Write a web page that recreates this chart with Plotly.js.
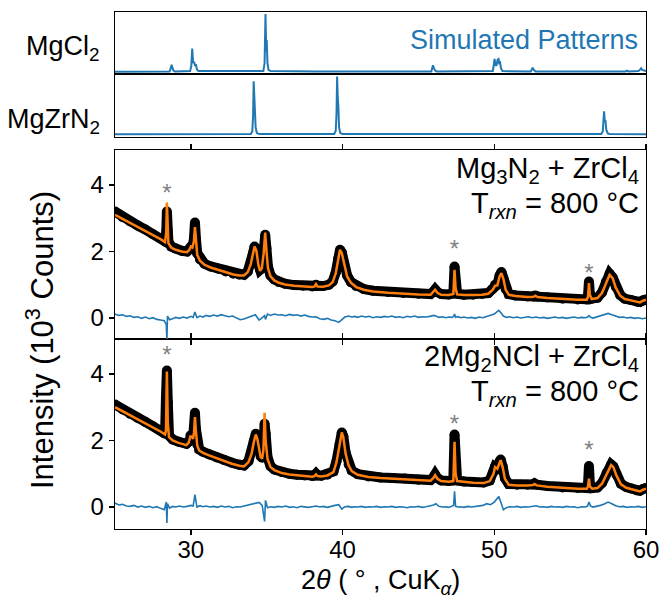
<!DOCTYPE html>
<html><head><meta charset="utf-8">
<script src="https://cdn.plot.ly/plotly-3.0.1.min.js"></script>
<style>html,body{margin:0;padding:0;background:#fff}#chart{width:660px;height:602px}</style>
</head><body><div id="chart"></div>
<script>
// ---- Simulated patterns (normalised) ----
const simX_MgCl2 = [25, 28.6, 28.68, 28.73, 28.78, 28.85, 28.95, 29.95, 30.03, 30.09, 30.15, 30.22, 30.28, 30.33, 30.4, 30.5, 34.78, 34.86, 34.92, 34.97, 35.0, 35.05, 35.12, 35.25, 38.1, 38.2, 38.3, 45.85, 45.92, 45.96, 46.02, 46.1, 46.2, 49.9, 49.97, 50.02, 50.07, 50.14, 50.22, 50.28, 50.32, 50.38, 50.44, 50.54, 52.4, 52.48, 52.53, 52.6, 52.72, 58.65, 58.75, 58.85, 59.5, 59.62, 59.68, 59.75, 59.9, 60];
const simY_MgCl2 = [0, 0.005, 0.06, 0.12, 0.07, 0.02, 0.005, 0.01, 0.1, 0.40, 0.15, 0.17, 0.10, 0.13, 0.04, 0.01, 0.01, 0.15, 1.0, 0.35, 0.55, 0.15, 0.03, 0.01, 0.005, 0.015, 0.005, 0.005, 0.06, 0.11, 0.06, 0.02, 0.005, 0.01, 0.12, 0.22, 0.12, 0.1, 0.21, 0.22, 0.15, 0.16, 0.06, 0.01, 0.005, 0.04, 0.07, 0.03, 0.005, 0.005, 0.02, 0.005, 0.01, 0.04, 0.06, 0.03, 0.01, 0.01];
const simX_MgZrN2 = [25, 33.95, 34.05, 34.1, 34.14, 34.18, 34.22, 34.27, 34.35, 34.5, 39.45, 39.55, 39.6, 39.64, 39.68, 39.72, 39.77, 39.85, 40.0, 57.05, 57.15, 57.2, 57.24, 57.28, 57.33, 57.38, 57.48, 57.6, 60];
const simY_MgZrN2 = [0, 0.005, 0.05, 0.3, 0.92, 0.6, 0.45, 0.12, 0.02, 0.005, 0.005, 0.06, 0.35, 1.0, 0.65, 0.5, 0.12, 0.02, 0.005, 0.005, 0.05, 0.2, 0.40, 0.22, 0.24, 0.08, 0.015, 0.005, 0];

// ---- Panel: Mg3N2 + ZrCl4 (10^3 counts) ----
const x_A = [25, 25.5, 26, 26.5, 27, 27.5, 28, 28.3, 28.38, 28.42, 28.46, 28.52, 28.7, 29, 29.4, 29.75, 29.9, 30.0, 30.1, 30.2, 30.27, 30.34, 30.42, 30.6, 30.9, 31.3, 31.8, 32.3, 32.8, 33.2, 33.5, 33.75, 33.95, 34.08, 34.2, 34.32, 34.45, 34.56, 34.68, 34.8, 34.9, 34.98, 35.08, 35.25, 35.5, 35.8, 36.2, 36.8, 37.4, 38.0, 38.15, 38.25, 38.35, 38.7, 39.1, 39.35, 39.55, 39.7, 39.83, 39.95, 40.1, 40.3, 40.55, 40.9, 41.4, 42, 43, 44, 45, 45.8, 46.0, 46.1, 46.25, 46.5, 47, 47.3, 47.38, 47.45, 47.55, 48, 48.6, 49.2, 49.6, 49.9, 50.05, 50.2, 50.35, 50.47, 50.6, 50.75, 50.95, 51.4, 52.2, 52.6, 52.7, 52.85, 53.5, 54.5, 55.5, 56.1, 56.18, 56.24, 56.3, 56.42, 56.8, 57.1, 57.35, 57.6, 57.8, 58.0, 58.3, 58.6, 59.0, 59.4, 59.6, 59.8, 60];
const fit_A = [3.1, 2.98, 2.86, 2.74, 2.62, 2.5, 2.37, 2.28, 2.6, 3.47, 2.75, 2.25, 2.12, 2.05, 2.0, 1.98, 2.05, 2.15, 2.12, 2.3, 2.73, 2.3, 1.9, 1.72, 1.6, 1.52, 1.45, 1.38, 1.31, 1.28, 1.28, 1.38, 1.62, 1.9, 2.15, 2.02, 1.6, 1.42, 1.5, 1.95, 2.57, 2.05, 1.5, 1.25, 1.13, 1.06, 1.01, 0.97, 0.95, 0.93, 0.95, 1.02, 0.95, 0.94, 0.98, 1.08, 1.35, 1.75, 2.05, 1.95, 1.6, 1.25, 1.06, 0.93, 0.85, 0.8, 0.76, 0.73, 0.71, 0.7, 0.78, 0.85, 0.76, 0.7, 0.69, 0.72, 1.45, 0.9, 0.71, 0.69, 0.69, 0.7, 0.73, 0.85, 0.97, 0.98, 1.25, 1.35, 1.18, 0.85, 0.7, 0.66, 0.63, 0.64, 0.67, 0.63, 0.6, 0.57, 0.55, 0.55, 0.65, 1.05, 0.7, 0.57, 0.6, 0.75, 1.05, 1.3, 1.2, 0.92, 0.67, 0.57, 0.53, 0.48, 0.47, 0.52, 0.55];
const obs_A = [3.2, 3.03, 2.9, 2.78, 2.66, 2.52, 2.4, 2.3, 2.6, 3.2, 2.65, 2.3, 2.15, 2.08, 2.02, 2.0, 2.08, 2.15, 2.15, 2.35, 2.87, 2.35, 1.95, 1.76, 1.63, 1.55, 1.48, 1.4, 1.33, 1.3, 1.3, 1.4, 1.62, 1.92, 2.15, 2.05, 1.62, 1.45, 1.5, 2.0, 2.5, 2.1, 1.55, 1.28, 1.16, 1.08, 1.03, 0.99, 0.97, 0.95, 0.96, 1.0, 0.96, 0.96, 1.0, 1.1, 1.37, 1.77, 2.05, 1.97, 1.62, 1.28, 1.08, 0.96, 0.87, 0.82, 0.78, 0.75, 0.73, 0.72, 0.8, 0.86, 0.78, 0.72, 0.71, 0.74, 1.55, 0.95, 0.73, 0.7, 0.7, 0.72, 0.75, 0.88, 1.0, 1.0, 1.28, 1.38, 1.2, 0.87, 0.72, 0.68, 0.65, 0.65, 0.68, 0.65, 0.62, 0.58, 0.56, 0.56, 0.68, 1.1, 0.72, 0.58, 0.61, 0.77, 1.08, 1.33, 1.22, 0.94, 0.69, 0.58, 0.54, 0.49, 0.48, 0.53, 0.56];

// ---- Panel: 2Mg2NCl + ZrCl4 ----
const x_B = [25, 25.5, 26, 26.5, 27, 27.5, 28, 28.3, 28.36, 28.42, 28.48, 28.56, 28.8, 29.2, 29.7, 29.85, 29.97, 30.07, 30.15, 30.21, 30.27, 30.33, 30.42, 30.55, 30.8, 31.2, 31.7, 32.2, 32.7, 33.2, 33.5, 33.8, 34.0, 34.15, 34.28, 34.38, 34.5, 34.6, 34.7, 34.78, 34.86, 34.93, 35.05, 35.25, 35.5, 36.0, 36.5, 37.0, 37.5, 38.0, 38.15, 38.25, 38.35, 38.6, 39.0, 39.4, 39.6, 39.8, 39.95, 40.05, 40.2, 40.4, 40.6, 41.0, 41.7, 42.5, 43.3, 44.1, 45.0, 45.8, 46.0, 46.1, 46.25, 46.5, 47.0, 47.3, 47.38, 47.45, 47.55, 48.0, 48.6, 49.3, 49.7, 49.95, 50.05, 50.2, 50.35, 50.42, 50.55, 50.7, 50.95, 51.5, 52.2, 52.55, 52.65, 52.8, 53.5, 54.5, 55.5, 56.1, 56.18, 56.24, 56.3, 56.45, 56.8, 57.1, 57.4, 57.7, 57.85, 58.05, 58.35, 58.7, 59.0, 59.4, 59.6, 59.8, 60];
const fit_B = [3.0, 2.88, 2.76, 2.64, 2.52, 2.4, 2.27, 2.18, 2.3, 4.07, 2.55, 2.1, 2.0, 1.93, 1.86, 1.93, 2.12, 2.12, 2.05, 2.25, 2.7, 2.3, 1.85, 1.7, 1.63, 1.55, 1.46, 1.38, 1.3, 1.24, 1.22, 1.35, 1.6, 1.95, 2.18, 2.05, 1.7, 1.5, 1.46, 1.7, 2.83, 2.0, 1.45, 1.2, 1.11, 1.02, 0.98, 0.95, 0.93, 0.91, 0.93, 0.98, 0.93, 0.92, 0.95, 1.05, 1.35, 1.85, 2.24, 2.1, 1.6, 1.25, 1.08, 0.97, 0.9, 0.87, 0.85, 0.84, 0.8, 0.79, 0.88, 0.96, 0.85, 0.78, 0.76, 0.78, 1.96, 1.0, 0.78, 0.75, 0.73, 0.72, 0.78, 1.0, 1.2, 1.15, 1.35, 1.41, 1.2, 0.85, 0.67, 0.65, 0.65, 0.66, 0.69, 0.65, 0.61, 0.57, 0.55, 0.55, 0.62, 0.85, 0.62, 0.55, 0.57, 0.7, 1.0, 1.26, 1.2, 0.95, 0.68, 0.58, 0.54, 0.48, 0.47, 0.52, 0.55];
const obs_B = [3.08, 2.93, 2.8, 2.68, 2.56, 2.43, 2.3, 2.2, 3.3, 4.1, 3.15, 2.15, 2.03, 1.96, 1.9, 1.96, 2.15, 2.15, 2.08, 2.3, 2.83, 2.35, 1.88, 1.73, 1.66, 1.58, 1.49, 1.41, 1.33, 1.27, 1.25, 1.38, 1.63, 1.98, 2.2, 2.08, 1.72, 1.52, 1.48, 1.75, 2.5, 2.2, 1.5, 1.23, 1.13, 1.05, 1.0, 0.97, 0.95, 0.93, 0.95, 1.0, 0.95, 0.94, 0.97, 1.07, 1.38, 1.88, 2.24, 2.12, 1.63, 1.28, 1.1, 0.99, 0.92, 0.89, 0.87, 0.86, 0.82, 0.81, 0.9, 0.98, 0.87, 0.8, 0.78, 0.8, 2.18, 1.3, 0.8, 0.77, 0.75, 0.74, 0.8, 1.05, 1.22, 1.18, 1.37, 1.43, 1.22, 0.87, 0.69, 0.67, 0.67, 0.68, 0.71, 0.67, 0.63, 0.59, 0.57, 0.57, 0.7, 1.23, 0.68, 0.57, 0.59, 0.72, 1.02, 1.28, 1.22, 0.97, 0.7, 0.6, 0.56, 0.5, 0.49, 0.54, 0.57];

// ---- Difference curves (shared 2theta grid) ----
const x_diff = [25, 25.25, 25.5, 25.75, 26, 26.25, 26.5, 26.75, 27, 27.25, 27.5, 27.75, 28, 28.25, 28.38, 28.42, 28.46, 28.6, 28.8, 29, 29.25, 29.5, 29.75, 30, 30.15, 30.27, 30.4, 30.6, 30.8, 31, 31.25, 31.5, 31.75, 32, 32.25, 32.5, 32.75, 33, 33.25, 33.5, 33.75, 34, 34.25, 34.5, 34.7, 34.86, 34.92, 35.05, 35.25, 35.5, 35.75, 36, 36.25, 36.5, 36.75, 37, 37.25, 37.5, 37.75, 38, 38.25, 38.5, 38.75, 39, 39.25, 39.5, 39.75, 39.95, 40.15, 40.4, 40.6, 40.8, 41, 41.25, 41.5, 41.75, 42, 42.25, 42.5, 42.75, 43, 43.25, 43.5, 43.75, 44, 44.25, 44.5, 44.75, 45, 45.25, 45.5, 45.75, 46, 46.15, 46.35, 46.6, 46.8, 47, 47.2, 47.32, 47.38, 47.45, 47.6, 47.8, 48, 48.25, 48.5, 48.75, 49, 49.25, 49.5, 49.75, 50, 50.15, 50.3, 50.45, 50.6, 50.8, 51, 51.25, 51.5, 51.75, 52, 52.25, 52.5, 52.75, 53, 53.25, 53.5, 53.75, 54, 54.25, 54.5, 54.75, 55, 55.25, 55.5, 55.75, 56, 56.15, 56.24, 56.35, 56.5, 56.75, 57, 57.25, 57.5, 57.75, 58, 58.25, 58.5, 58.75, 59, 59.25, 59.5, 59.75, 60];
const diff_A = [0.12, 0.08, 0.1, 0.05, 0.07, 0.02, 0.04, -0.01, 0.03, -0.02,
  0.01, -0.04, -0.06, -0.08, -0.2, -0.66, 0.06, -0.05, -0.02, 0.02,
  -0.01, 0.03, 0.0, 0.05, 0.02, 0.18, 0.01, 0.06, 0.03, 0.08,
  0.05, 0.09, 0.06, 0.1, 0.07, 0.04, 0.06, 0.01, -0.05, -0.03,
  0.02, 0.06, 0.1, -0.06, 0.02, 0.07, -0.04, 0.12, 0.08, 0.12,
  0.09, 0.1, 0.07, 0.11, 0.08, 0.1, 0.06, 0.09, 0.05, 0.03,
  0.04, -0.02, -0.04, -0.01, -0.06, -0.08, -0.13, -0.05, 0.03, 0.06,
  0.03, 0.05, 0.02, 0.06, 0.03, 0.05, 0.01, 0.04, 0.02, 0.05,
  0.03, 0.06, 0.02, 0.04, 0.01, 0.05, 0.03, 0.06, 0.02, 0.04,
  0.03, 0.05, 0.08, 0.06, 0.02, 0.04, 0.01, 0.03, 0.02, 0.05,
  0.12, 0.02, 0.04, 0.01, 0.03, 0.0, 0.02, -0.01, 0.03, 0.01,
  0.04, 0.07, 0.12, 0.18, 0.23, 0.15, 0.06, 0.02, 0.04, 0.01,
  0.03, 0.0, 0.02, 0.04, 0.01, 0.03, 0.0, 0.02, -0.01, 0.01,
  0.03, 0.0, 0.02, -0.01, 0.01, 0.03, 0.0, 0.02, 0.01, 0.03,
  0.07, 0.02, 0.0, 0.03, 0.06, 0.09, 0.14, 0.1, 0.05, 0.02,
  0.03, 0.0, 0.02, -0.01, 0.01, -0.02, 0.0];
const diff_B = [0.12, 0.06, 0.08, 0.03, 0.02, 0.05, 0.0, 0.03, -0.01, 0.02,
  -0.02, 0.01, -0.04, -0.08, 0.15, -0.48, 0.1, -0.03, 0.02, 0.0,
  0.03, 0.0, 0.02, 0.05, 0.03, 0.37, 0.0, 0.04, 0.01, 0.03,
  0.0, 0.02, -0.01, 0.03, 0.0, 0.02, -0.02, 0.01, 0.0, 0.03,
  0.05, 0.08, 0.1, 0.14, 0.05, -0.43, 0.2, -0.02, 0.01, -0.01,
  0.02, 0.0, 0.03, -0.01, 0.01, -0.02, 0.02, 0.0, -0.01, 0.01,
  0.03, 0.0, 0.02, -0.01, 0.03, 0.05, 0.07, -0.06, 0.01, 0.02,
  -0.01, 0.01, 0.0, 0.02, -0.01, 0.01, 0.0, 0.02, -0.01, 0.01,
  0.0, 0.02, -0.01, 0.01, 0.0, -0.02, 0.01, 0.0, 0.02, -0.01,
  0.01, 0.03, 0.06, 0.1, 0.02, 0.0, 0.01, -0.01, 0.02, 0.05,
  0.47, 0.02, 0.0, 0.01, -0.01, 0.02, 0.0, 0.01, 0.03, 0.05,
  0.1, 0.07, 0.15, 0.22, 0.32, 0.12, -0.08, -0.02, 0.01, 0.0,
  0.02, -0.01, 0.01, 0.0, 0.02, 0.04, 0.0, 0.01, -0.01, 0.02,
  0.0, 0.01, -0.01, 0.02, 0.0, 0.01, -0.02, 0.01, 0.0, 0.03,
  0.15, 0.03, 0.0, 0.02, 0.05, 0.09, 0.15, 0.1, 0.04, 0.01,
  0.02, -0.01, 0.01, 0.0, 0.02, -0.01, 0.01];

// ---- Impurity markers (*) ----
const star_x = [28.42, 47.38, 56.24];
const star_y_A = [3.7, 2.0, 1.3];
const star_y_B = [4.5, 2.45, 1.66];

// ---- Labels ----
const xTicks = [30, 40, 50, 60];
const yTicks = [0, 2, 4];
const simLabels = ['MgCl<sub>2</sub>', 'MgZrN<sub>2</sub>'];
const panelLabelsA = ['Mg<sub>3</sub>N<sub>2</sub> + ZrCl<sub>4</sub>', 'T<sub><i>rxn</i></sub> = 800 °C'];
const panelLabelsB = ['2Mg<sub>2</sub>NCl + ZrCl<sub>4</sub>', 'T<sub><i>rxn</i></sub> = 800 °C'];

const BLUE = '#1f77b4', ORANGE = '#ff7f0e', GRAY = '#808080';
const FONT = 'Liberation Sans, Arial, Helvetica, sans-serif';

function dataPanel(xa, ya, x, obs, fit, dy, sy) {
  return [
    {x: x, y: obs, xaxis: xa, yaxis: ya, type: 'scatter', mode: 'lines+markers',
     line: {color: '#000', width: 10}, marker: {color: '#000', size: 10}},
    {x: x, y: fit, xaxis: xa, yaxis: ya, type: 'scatter', mode: 'lines',
     line: {color: ORANGE, width: 2.5}},
    {x: x_diff, y: dy, xaxis: xa, yaxis: ya, type: 'scatter', mode: 'lines',
     line: {color: BLUE, width: 1.6}},
    {x: star_x, y: sy, xaxis: xa, yaxis: ya, type: 'scatter', mode: 'text',
     text: star_x.map(() => '*'), textposition: 'middle center',
     textfont: {family: FONT, size: 24, color: GRAY}}
  ];
}

const traces = [
  {x: simX_MgCl2, y: simY_MgCl2, xaxis: 'x4', yaxis: 'y4', type: 'scatter', mode: 'lines',
   line: {color: BLUE, width: 2}},
  {x: simX_MgZrN2, y: simY_MgZrN2, xaxis: 'x3', yaxis: 'y3', type: 'scatter', mode: 'lines',
   line: {color: BLUE, width: 2}},
  ...dataPanel('x2', 'y2', x_A, obs_A, fit_A, diff_A, star_y_A),
  ...dataPanel('x', 'y', x_B, obs_B, fit_B, diff_B, star_y_B)
];

const W = 660, H = 602;
const px = v => v / W, py = v => 1 - v / H;
const xDom = [px(115), px(646)];
const lineCommon = {showline: true, linecolor: '#000', linewidth: 1.3, mirror: true, zeroline: false, showgrid: false};
const xCommon = Object.assign({}, lineCommon, {domain: xDom, range: [25, 60], tickvals: xTicks,
  tickcolor: '#000', tickwidth: 1.3, ticklen: 5, tickfont: {family: FONT, size: 24, color: '#000'}});

const layout = {
  width: W, height: H,
  margin: {l: 0, r: 0, t: 0, b: 0},
  paper_bgcolor: '#fff', plot_bgcolor: '#fff',
  showlegend: false, hovermode: false,
  font: {family: FONT, color: '#000'},
  xaxis: Object.assign({}, xCommon, {anchor: 'y', ticks: 'outside', mirror: 'ticks', showticklabels: true, ticklabelstandoff: -6}),
  xaxis2: Object.assign({}, xCommon, {anchor: 'y2', ticks: 'outside', mirror: 'ticks', showticklabels: false, matches: 'x'}),
  xaxis3: Object.assign({}, xCommon, {anchor: 'y3', ticks: '', showticklabels: false, matches: 'x'}),
  xaxis4: Object.assign({}, xCommon, {anchor: 'y4', ticks: '', showticklabels: false, matches: 'x'}),
  yaxis: Object.assign({}, lineCommon, {anchor: 'x', domain: [py(529), py(339)], range: [-0.66, 5.05],
    tickvals: yTicks, ticks: 'outside', ticklen: 5, tickwidth: 1.3, tickcolor: '#000',
    tickfont: {family: FONT, size: 24, color: '#000'}}),
  yaxis2: Object.assign({}, lineCommon, {anchor: 'x2', domain: [py(339), py(150)], range: [-0.63, 5.05],
    tickvals: yTicks, ticks: 'outside', ticklen: 5, tickwidth: 1.3, tickcolor: '#000',
    tickfont: {family: FONT, size: 24, color: '#000'}}),
  yaxis3: Object.assign({}, lineCommon, {anchor: 'x3', domain: [py(137), py(74)], range: [-0.047, 1.045],
    ticks: '', showticklabels: false}),
  yaxis4: Object.assign({}, lineCommon, {anchor: 'x4', domain: [py(74), py(12)], range: [-0.04, 1.035],
    ticks: '', showticklabels: false}),
  annotations: [
    {text: simLabels[0], xref: 'paper', yref: 'paper', x: px(102), y: py(48), xanchor: 'right', yanchor: 'middle', showarrow: false, font: {size: 27}},
    {text: simLabels[1], xref: 'paper', yref: 'paper', x: px(102), y: py(121), xanchor: 'right', yanchor: 'middle', showarrow: false, font: {size: 27}},
    {text: 'Simulated Patterns', xref: 'paper', yref: 'paper', x: px(640), y: py(40), xanchor: 'right', yanchor: 'middle', showarrow: false, font: {size: 27, color: BLUE}},
    {text: panelLabelsA[0], xref: 'paper', yref: 'paper', x: px(641), y: py(170), xanchor: 'right', yanchor: 'middle', showarrow: false, font: {size: 29}},
    {text: panelLabelsA[1], xref: 'paper', yref: 'paper', x: px(641), y: py(205), xanchor: 'right', yanchor: 'middle', showarrow: false, font: {size: 29}},
    {text: panelLabelsB[0], xref: 'paper', yref: 'paper', x: px(641), y: py(358), xanchor: 'right', yanchor: 'middle', showarrow: false, font: {size: 29}},
    {text: panelLabelsB[1], xref: 'paper', yref: 'paper', x: px(641), y: py(393), xanchor: 'right', yanchor: 'middle', showarrow: false, font: {size: 29}},
    {text: 'Intensity (10<sup>3</sup> Counts)', xref: 'paper', yref: 'paper', x: px(40), y: py(340), xanchor: 'center', yanchor: 'middle', textangle: -90, showarrow: false, font: {size: 31}},
    {text: '2<i>θ</i> ( ° , CuK<sub><i>α</i></sub>)', xref: 'paper', yref: 'paper', x: px(380), y: py(582), xanchor: 'center', yanchor: 'middle', showarrow: false, font: {size: 27}}
  ]
};

Plotly.newPlot('chart', traces, layout, {staticPlot: true, displayModeBar: false});
</script></body></html>
